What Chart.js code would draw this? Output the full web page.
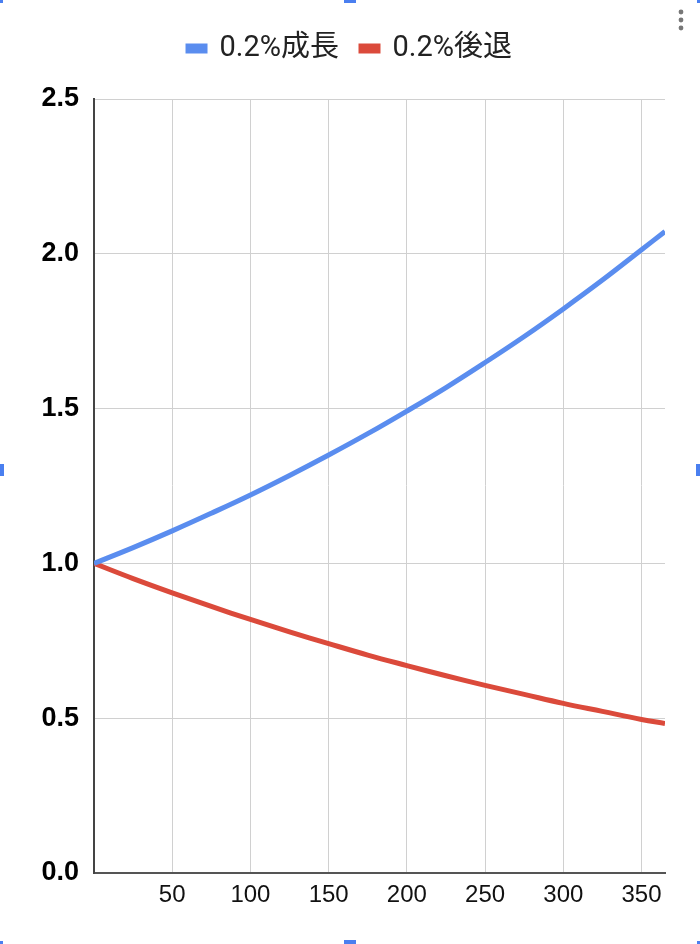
<!DOCTYPE html>
<html>
<head>
<meta charset="utf-8">
<script src="https://cdn.jsdelivr.net/npm/chart.js@4"></script>
<style>
  body { margin: 0; background: #fff; }
  #wrap { width: 700px; height: 944px; }
</style>
</head>
<body>
<div id="wrap"><canvas id="chart" width="700" height="944"></canvas></div>
<script>
// values (day -> multiplier)
const days = [0, 25, 50, 75, 100, 125, 150, 175, 200, 225, 250, 275, 300, 325, 350, 365];
const growth = [1.00, 1.051, 1.105, 1.162, 1.221, 1.284, 1.350, 1.419, 1.492, 1.568, 1.649, 1.733, 1.822, 1.915, 2.013, 2.072];
const decline = [1.00, 0.951, 0.905, 0.861, 0.819, 0.779, 0.741, 0.704, 0.670, 0.637, 0.606, 0.577, 0.548, 0.522, 0.496, 0.483];
const seriesNames = ["0.2%成長", "0.2%後退"];
const xTicks = [50, 100, 150, 200, 250, 300, 350];
const yTicks = [0, 0.5, 1.0, 1.5, 2.0, 2.5];

const toPoints = (vals) => days.map((d, i) => ({ x: d, y: vals[i] }));

// leave a gap under the legend like the sheet chart does
const legendGap = {
  id: "legendGap",
  afterInit(c) {
    const lg = c.legend;
    if (!lg) return;
    const fit = lg.fit;
    lg.fit = function () {
      fit.call(this);
      this.height += 26;
    };
  }
};

// selection handles + menu dots seen around the embedded chart
const frame = {
  id: "frame",
  afterDraw(c) {
    const ctx = c.ctx;
    ctx.save();
    ctx.fillStyle = "#4a7ff0";
    [[0, 464, 4, 12], [696, 464, 4, 12], [344, 940, 12, 4], [344, 0, 12, 3], [697, 0, 3, 3], [0, 941, 3, 3], [697, 941, 3, 3], [0, 0, 3, 3]]
      .forEach(([x, y, w, h]) => ctx.fillRect(x, y, w, h));
    ctx.fillStyle = "#777";
    [12, 20, 28].forEach((y) => {
      ctx.beginPath();
      ctx.arc(681, y, 2.4, 0, Math.PI * 2);
      ctx.fill();
    });
    ctx.restore();
  }
};

new Chart(document.getElementById("chart"), {
  type: "line",
  data: {
    datasets: [
      { label: seriesNames[0], data: toPoints(growth), borderColor: "#5a8def", backgroundColor: "#5a8def", borderWidth: 5, pointRadius: 0, tension: 0.4 },
      { label: seriesNames[1], data: toPoints(decline), borderColor: "#db4a3b", backgroundColor: "#db4a3b", borderWidth: 5, pointRadius: 0, tension: 0.4 }
    ]
  },
  options: {
    responsive: false,
    animation: false,
    layout: { padding: { left: 35, right: 35, top: 12, bottom: 0 } },
    plugins: {
      tooltip: { enabled: false },
      legend: {
        position: "top",
        labels: {
          boxWidth: 17,
          boxHeight: 5,
          padding: 22,
          color: "#222",
          font: { family: "Roboto, 'Noto Sans CJK JP', sans-serif", size: 29 }
        }
      }
    },
    scales: {
      x: {
        type: "linear",
        min: 0,
        max: 365,
        afterBuildTicks: (s) => { s.ticks = xTicks.map((v) => ({ value: v })); },
        afterFit: (s) => { s.height = 71; },
        grid: { color: "#d0d0d0", lineWidth: 1, drawTicks: false },
        border: { color: "#555", width: 2 },
        ticks: {
          padding: 8,
          maxRotation: 0,
          color: "#111",
          font: { family: "'Liberation Sans', Arial, sans-serif", size: 24 }
        }
      },
      y: {
        min: 0,
        max: 2.5,
        afterBuildTicks: (s) => { s.ticks = yTicks.map((v) => ({ value: v })); },
        afterFit: (s) => { s.width = 59; },
        grid: { color: "#d0d0d0", lineWidth: 1, drawTicks: false },
        border: { color: "#444", width: 2 },
        ticks: {
          padding: 15,
          color: "#000",
          callback: (v) => v.toFixed(1),
          font: { family: "'Liberation Sans', Arial, sans-serif", size: 27, weight: "bold" }
        }
      }
    }
  },
  plugins: [legendGap, frame]
});
</script>
</body>
</html>
